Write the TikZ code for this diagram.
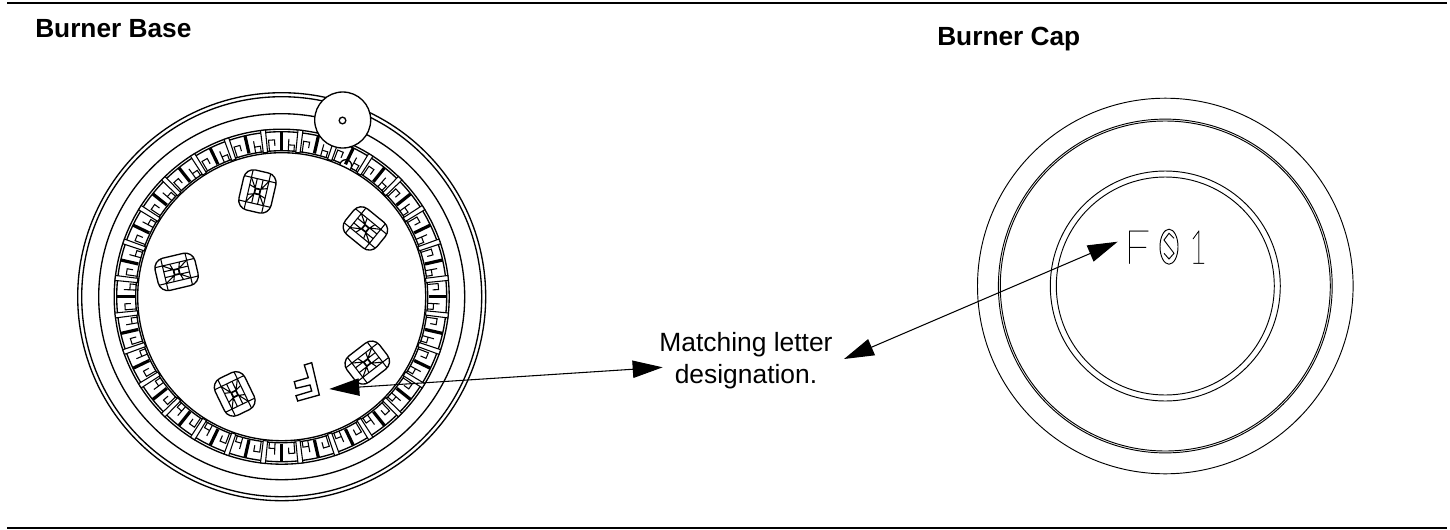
\documentclass[tikz,border=0pt]{standalone}
\usepackage{fontspec}
\usetikzlibrary{arrows.meta}
\setmainfont{Liberation Sans}
\newfontfamily\thinf[FakeBold=0.6]{Lato Hairline}
\tikzset{
  rulebar/.style={line width=1.9pt},
  heading/.style={font=\fontsize{19.7pt}{22pt}\selectfont\bfseries,anchor=base west,inner sep=0},
  callout/.style={font=\fontsize{19.8pt}{23.8pt}\selectfont,align=center,inner sep=0},
  ink/.style={line width=1pt},
  thinink/.style={line width=0.8pt},
  capink/.style={line width=0.7pt},
  pointer/.style={line width=0.8pt,{Triangle[length=22.5pt,width=13pt]}-{Triangle[length=22.5pt,width=13pt]}},
  engrave/.style={font=\fontsize{35pt}{35pt}\selectfont\thinf,inner sep=0,anchor=base}
}
\begin{document}
\begin{tikzpicture}[x=0.75pt,y=-0.75pt]
\useasboundingbox (0,0) rectangle (1450,529);
\fill[white] (0,0) rectangle (1450,529);
\draw[rulebar] (7,3) -- (1447,3);
\draw[rulebar] (7,528) -- (1447,528);
\node[heading] (base) at (35,37) {Burner Base};
\node[heading] (cap) at (937,45) {Burner Cap};
% Burner base
\begin{scope}[shift={(281.7,296.7)}]
  \foreach \r in {204,200,183,167.5,165,146}{\draw[ink] (0,0) circle[radius=\r];}
  \draw[ink,fill=white] (64,-131) circle[radius=6];
  \draw[ink,fill=white] (0,0) circle[radius=144];
  \foreach \k in {0,...,27}{
    \begin{scope}[rotate={\k*360/28}]
      \draw[thinink,fill=white] (6.43-0.85:145) -- (6.43-0.85:167.5) -- (6.43+0.85:167.5) -- (6.43+0.85:145) -- cycle;
      \draw[line width=2.4pt] (0:147) -- (0:165);
      \draw[thinink] (-4.8:146) -- (-4.8:157) -- (-2.6:157) -- (-2.6:151);
      \draw[thinink] (2.6:146) -- (2.6:158) (2.6:152) -- (4.8:152) -- (4.8:146);
    \end{scope}
  }
  \foreach \a in {37.6,115.8,193.3,257,320.8}{
    \begin{scope}[shift={(\a:108)},rotate=\a]
      \draw[ink,fill=white,rounded corners=7.5pt] (-20.5,-16.5) rectangle (20.5,16.5);
      \draw[thinink] (-12.5,-16.5)--(-12.5,16.5) (12.5,-16.5)--(12.5,16.5) (-20,-9)--(20,-9) (-20,9)--(20,9);
      \draw[thinink] (-12.5,-9)--(-3,-3) (12.5,9)--(3,3) (-12.5,9)--(-3,3) (12.5,-9)--(3,-3) (-12.5,-3)--(-3,-3) (12.5,-3)--(3,-3) (-12.5,3)--(-3,3) (12.5,3)--(3,3) (-5,-9)--(-3,-3) (5,-9)--(3,-3) (-5,9)--(-3,3) (5,9)--(3,3);
      \draw[line width=1.3pt,fill=white] (-2.6,-2.6) rectangle (2.6,2.6);
    \end{scope}
  }
\end{scope}
\node[circle,draw,line width=1pt,fill=white,minimum size=42pt,inner sep=0] (knob) at (342.7,120) {};
\node[circle,draw,line width=1pt,fill=white,minimum size=5pt,inner sep=0] (hole) at (342.5,120.5) {};
% outlined F on the base
\draw[ink] (304.3,365) -- (311.7,362.7) -- (319.3,395) -- (297.7,401) -- (296,395.7) -- (311.7,391) -- (310,385) -- (296,388.3) -- (294.3,381.7) -- (308.3,377.7) -- cycle;
% Burner cap
\begin{scope}[shift={(1165.3,286)}]
  \foreach \r in {187.8,166.9,165,115,109}{\draw[capink] (0,0) circle[radius=\r];}
\end{scope}
\node[engrave] (letterF) at (1137,263.5) {F};
\draw[capink] (1169,246.7) circle[x radius=9,y radius=17.5];
\draw[capink] (1174,238.3) -- (1169,233.3) -- (1164,240) -- (1174,253.3) -- (1169,259) -- (1164,253.3);
\node[engrave,xscale=0.65] (letterOne) at (1198,263.5) {1};
% Label and pointers
\node[callout] (label) at (746,361) {Matching letter\\designation.};
\coordinate (baseL) at (329.3,389);
\coordinate (labelL) at (662.7,367.3);
\coordinate (labelR) at (844,359);
\coordinate (capL) at (1117.7,241.7);
\draw[pointer] (baseL) -- (labelL);
\draw[pointer] (labelR) -- (capL);
\end{tikzpicture}
\end{document}
